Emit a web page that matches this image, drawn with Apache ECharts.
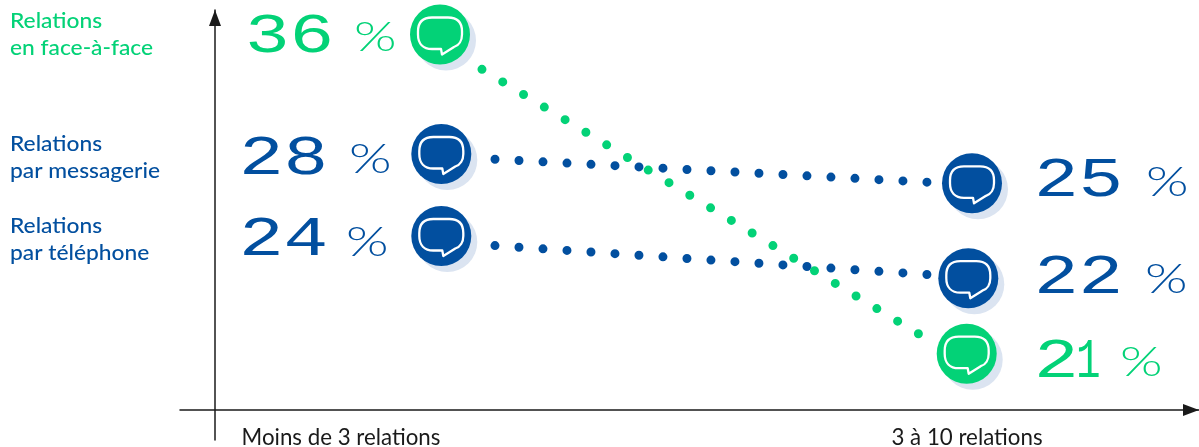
<!DOCTYPE html>
<html lang="fr">
<head>
<meta charset="utf-8">
<title>Relations selon le nombre de relations</title>
<script src="https://cdn.jsdelivr.net/npm/echarts@6/dist/echarts.min.js"></script>
<style>
  html, body { margin: 0; background: #fff; }
  #chart { width: 1199px; height: 447px; }
</style>
</head>
<body>
<div id="chart"></div>
<script>
// Data
const categories = ['Moins de 3 relations', '3 à 10 relations'];
const faceAFace = [36, 21];
const messagerie = [28, 25];
const telephone = [24, 22];
const legendFaceAFace = 'Relations\nen face-à-face';
const legendMessagerie = 'Relations\npar messagerie';
const legendTelephone = 'Relations\npar téléphone';

// Palette and type
const GREEN = '#03d277';
const BLUE = '#024f9f';
const HALO = '#dbe4f1';
const INK = '#1a1a1a';
const BODY_FONT = 'Lato, "Noto Sans", sans-serif';
const DIGIT_FONT = '400 56px "Liberation Mono", monospace';
const DIGIT_STRETCH = 1.33;
const DIGIT_ADVANCE = 44.5;

// Speech bubble outline, centred on the disc
const BUBBLE = 'M-8,-17 L8,-17 C17,-17 22,-12 22,-3 L22,0 C22,6 19,11 14,12.5 ' +
  'L2,20 L1,14.5 L-8,14.5 C-17,14.5 -22,9 -22,0 L-22,-3 C-22,-12 -17,-17 -8,-17 Z';

// Each line is schematic and runs on its own hidden scale.
const lines = [
  {
    name: 'Relations par messagerie', values: messagerie, color: BLUE,
    range: [0.731, 44.817],
    dots: { lead: 54.08, gap: 24.03, count: 19 },
    nudge: [[0.3, -2.4], [5, -1]],
    numberAt: [[239, 175], [1034, 197]],
    percentAt: [[349, 174], [1146, 197]]
  },
  {
    name: 'Relations par téléphone', values: telephone, color: BLUE,
    range: [14.455, 37.75],
    dots: { lead: 54.1, gap: 24.05, count: 19 },
    nudge: [[0.3, -6], [1.3, 1]],
    numberAt: [[239, 256], [1034, 294]],
    percentAt: [[346, 257], [1145, 294]]
  },
  {
    name: 'Relations en face-à-face', values: faceAFace, color: GREEN,
    range: [18.798, 38.094],
    dots: { lead: 47.9, gap: 24.3, count: 22 },
    nudge: [[-1, -10], [-0.3, -9.5]],
    numberAt: [[245, 53], [1034, 378]],
    percentAt: [[354, 52], [1120, 377]]
  }
];

// A finite run of round dots: a hidden one on the start point, then the visible ones.
function dotPattern(d) {
  const pattern = [0, d.lead];
  for (let i = 1; i < d.count; i++) pattern.push(0, d.gap);
  pattern.push(0, 2000);
  return pattern;
}

function wideText(text, x, y, font, fill, stretch) {
  return {
    type: 'text', x, y, scaleX: stretch, originX: 0, originY: 0,
    style: { text, font, fill, align: 'left', verticalAlign: 'bottom' }
  };
}

// Digits are set one by one; the figure 1 takes a narrower slot than the others.
function digitElements(value, pos, fill) {
  return String(value).split('').map((digit, n) => {
    const isOne = digit === '1';
    const x = pos[0] + n * DIGIT_ADVANCE - (isOne ? 2.5 : 0);
    return wideText(digit, x, pos[1] + 12, DIGIT_FONT, fill, isOne ? 0.73 : DIGIT_STRETCH);
  });
}

function markerRenderer(line) {
  return function (params, api) {
    const i = params.dataIndex;
    const p = api.coord([api.value(0), api.value(1)]);
    const cx = p[0] + line.nudge[i][0];
    const cy = p[1] + line.nudge[i][1];
    return {
      type: 'group',
      children: [
        { type: 'circle', shape: { cx: cx + 6, cy: cy + 6, r: 30 }, style: { fill: HALO } },
        { type: 'circle', shape: { cx, cy, r: 30 }, style: { fill: line.color } },
        {
          type: 'path',
          shape: { pathData: BUBBLE, layout: 'cover', x: cx - 22, y: cy - 17, width: 44, height: 37 },
          style: { fill: 'none', stroke: '#fff', lineWidth: 2.3, lineJoin: 'round' }
        },
        ...digitElements(line.values[i], line.numberAt[i], line.color),
        wideText('%', line.percentAt[i][0], line.percentAt[i][1] + 6,
          '300 42px ' + BODY_FONT, line.color, 1.3)
      ]
    };
  };
}

// Labels sit close to the bottom edge, so the grids keep their given boxes.
const grids = [
  { left: 441, right: 232, top: 0, bottom: 37, outerBoundsMode: 'none' },   // marks
  { left: 341, right: 232, top: 0, bottom: 37, outerBoundsMode: 'none' },   // category labels
  { left: 180, right: 0, top: 0, bottom: 37, outerBoundsMode: 'none' },     // horizontal axis line
  { left: 215, right: 0, top: 10, bottom: 7, outerBoundsMode: 'none' }      // vertical axis line
];

const xAxes = [
  { gridIndex: 0, type: 'category', data: categories, boundaryGap: false, show: false },
  {
    gridIndex: 1, type: 'category', data: categories, boundaryGap: false,
    axisLine: { show: false }, axisTick: { show: false },
    axisLabel: { color: INK, fontFamily: BODY_FONT, fontSize: 22.3, margin: 17, interval: 0 }
  },
  {
    gridIndex: 2, type: 'value', min: 0, max: 1,
    axisLine: {
      show: true, onZero: false, lineStyle: { color: INK, width: 1.5 },
      symbol: ['none', 'triangle'], symbolSize: [12, 16], symbolOffset: [0, -8]
    },
    axisTick: { show: false }, axisLabel: { show: false }, splitLine: { show: false }
  },
  { gridIndex: 3, type: 'value', min: 0, max: 1, show: false }
];

const yAxes = lines.map(l => ({
  gridIndex: 0, type: 'value', min: l.range[0], max: l.range[1], show: false
})).concat([
  { gridIndex: 1, type: 'value', min: 0, max: 1, show: false },
  { gridIndex: 2, type: 'value', min: 0, max: 1, show: false },
  {
    gridIndex: 3, type: 'value', min: 0, max: 1,
    axisLine: {
      show: true, onZero: false, lineStyle: { color: INK, width: 1.5 },
      symbol: ['none', 'triangle'], symbolSize: [12, 16], symbolOffset: [0, -8]
    },
    axisTick: { show: false }, axisLabel: { show: false }, splitLine: { show: false }
  }
]);

const series = [];
lines.forEach((l, k) => {
  series.push({
    type: 'line', name: l.name, xAxisIndex: 0, yAxisIndex: k, data: l.values,
    symbol: 'none', z: 2 + k, silent: true,
    lineStyle: { color: l.color, width: 9, type: dotPattern(l.dots), cap: 'round' }
  });
});
lines.forEach((l, k) => {
  series.push({
    type: 'custom', name: l.name + ' (repères)', xAxisIndex: 0, yAxisIndex: k,
    data: l.values.map((v, i) => [i, v]), encode: { x: 0, y: 1 },
    renderItem: markerRenderer(l), z: 10, silent: true
  });
});

const legendFont = '500 22px ' + BODY_FONT;
function legendText(text, y, fill) {
  return {
    type: 'text', x: 10, y, scaleX: 1.035,
    style: { text, font: legendFont, fill, lineHeight: 27 }
  };
}

const chart = echarts.init(document.getElementById('chart'), null, { renderer: 'canvas' });
chart.setOption({
  animation: false,
  backgroundColor: '#fff',
  grid: grids,
  xAxis: xAxes,
  yAxis: yAxes,
  series,
  graphic: [
    legendText(legendFaceAFace, 7, GREEN),
    legendText(legendMessagerie, 130, BLUE),
    legendText(legendTelephone, 212, BLUE)
  ]
});
</script>
</body>
</html>
